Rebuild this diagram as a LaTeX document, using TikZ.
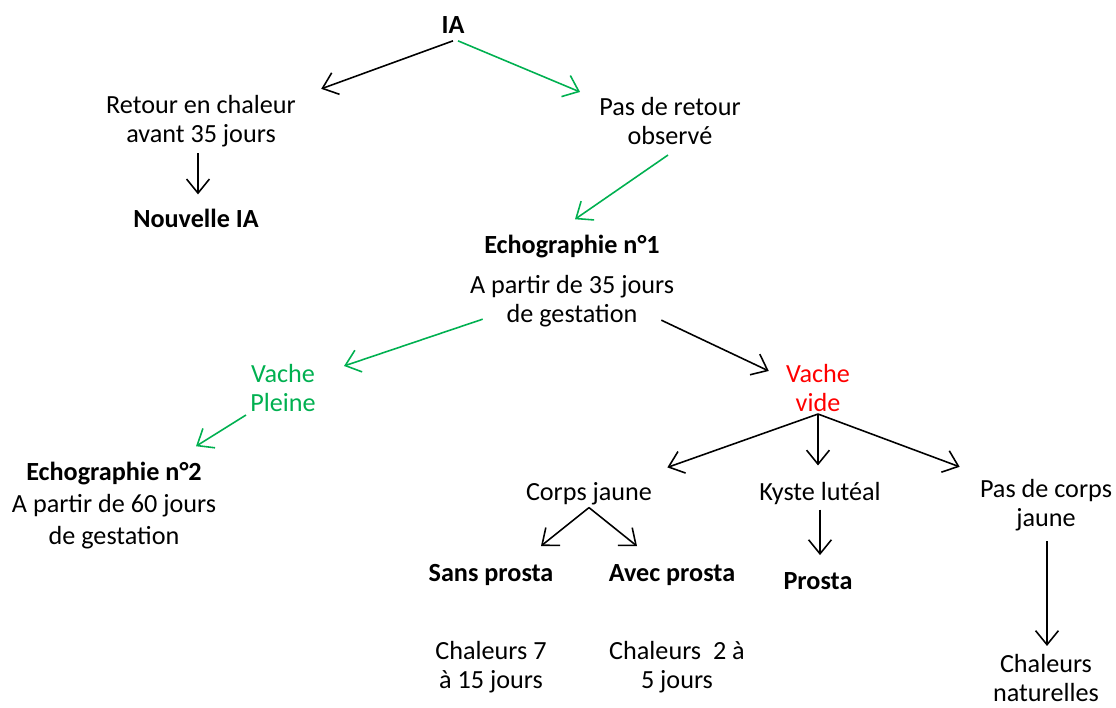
\documentclass[tikz,border=0pt]{standalone}
\usepackage{fontspec}
\setmainfont{Carlito}
\usetikzlibrary{arrows.meta}
\definecolor{vert}{RGB}{0,176,80}
\definecolor{rouge}{RGB}{255,0,0}
\begin{document}
\begin{tikzpicture}[x=0.02cm,y=-0.02cm,
    every node/.style={inner sep=0pt,align=center,font=\fontsize{14.9}{16.5}\selectfont},
    fl/.style={-{Straight Barb[length=8pt,width=13pt]},line width=0.9pt},
    flv/.style={fl,color=vert}]
  \useasboundingbox (0,0) rectangle (1116,707);

  % haut de l'arbre
  \node (ia) at (453,25) {\textbf{IA}};
  \node (retour) at (201,121) {Retour en chaleur\\avant 35 jours};
  \node (pas) at (670,121) {Pas de retour\\observé};
  \node (nouv) at (196,218) {\textbf{Nouvelle IA}};
  \draw[fl] ([shift={(0,7)}]ia.south) -- ([shift={(25,-6)}]retour.north east);
  \draw[flv] ([shift={(5,7)}]ia.south) -- ([shift={(-19,-5)}]pas.north west);
  \draw[fl] ([shift={(-3,6)}]retour.south) -- ([shift={(2,-14)}]nouv.north);

  % premiere echographie
  \node (echoa) at (572,247) {\textbf{Echographie n°1}};
  \node (apartir) at (572,301) {A partir de 35 jours\\de gestation};
  \draw[flv] ([shift={(-2,10)}]pas.south) -- ([shift={(3,-16)}]echoa.north);

  \node[text=vert] (pleine) at (283,388) {Vache\\Pleine};
  \node[text=rouge] (vide) at (818,388) {Vache\\vide};
  \draw[flv] ([shift={(13,-8)}]apartir.south west) -- ([shift={(28,2)}]pleine.north east);
  \draw[fl] ([shift={(-13,-7)}]apartir.south east) -- ([shift={(-17,7)}]vide.north west);

  \node[font=\fontsize{14.9}{18.2}\selectfont] (echob) at (114,506)
    {\textbf{Echographie n°2}\\A partir de 60 jours\\de gestation};
  \draw[flv] ([shift={(-4,3)}]pleine.south west) -- ([shift={(82,-16)}]echob.north);

  % vache vide
  \node (cj) at (589,494) {Corps jaune};
  \node (kyste) at (820,494) {Kyste lutéal};
  \node (pdc) at (1046,505) {Pas de corps\\jaune};
  \draw[fl] ([shift={(0,2)}]vide.south) -- ([shift={(15,-15)}]cj.north east);
  \draw[fl] ([shift={(0,2)}]vide.south) -- ([shift={(-2,-17)}]kyste.north);
  \draw[fl] ([shift={(0,2)}]vide.south) -- ([shift={(-20,-12)}]pdc.north west);

  \node (sans) at (491,575) {\textbf{Sans prosta}};
  \node (avec) at (672,575) {\textbf{Avec prosta}};
  \node (prosta) at (818,581) {\textbf{Prosta}};
  \draw[fl] ([shift={(0,2)}]cj.south) -- ([shift={(50,-18)}]sans.north);
  \draw[fl] ([shift={(0,2)}]cj.south) -- ([shift={(-35,-18)}]avec.north);
  \draw[fl] ([shift={(0,4)}]kyste.south) -- ([shift={(2,-17)}]prosta.north);

  \node (chsept) at (491,667) {Chaleurs 7\\à 15 jours};
  \node (chdeux) at (677,667) {Chaleurs~ 2 à\\5 jours};
  \node (chnat) at (1046,678) {Chaleurs\\naturelles};
  \draw[fl] ([shift={(1,10)}]pdc.south) -- ([shift={(1,-8)}]chnat.north);
\end{tikzpicture}
\end{document}
